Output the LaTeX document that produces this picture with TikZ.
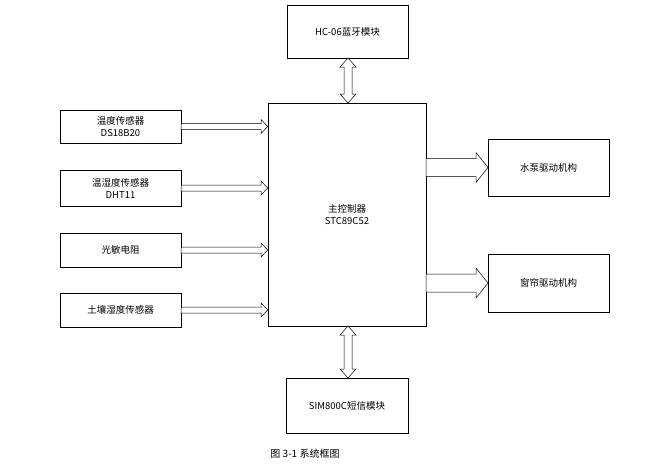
\documentclass[tikz,border=0pt]{standalone}
\usepackage{fontspec}
\setmainfont{Noto Sans CJK SC}
\begin{document}
\begin{tikzpicture}[x=1pt,y=-1pt,
  box/.style={draw,line width=0.6pt,inner sep=0pt,font=\fontsize{9.5}{12}\selectfont,align=center},
  harrow/.style={draw,line width=0.5pt,fill=white}]
\useasboundingbox (0,0) rectangle (669,464);
\fill[white] (0,0) rectangle (669,464);
\node[box,minimum width=121pt,minimum height=53pt] (hc) at (347.5,31.5) {HC-06蓝牙模块};
\node[box,minimum width=158pt,minimum height=223pt] (mcu) at (347,214.5) {主控制器\\STC89C52};
\node[box,minimum width=121pt,minimum height=33pt] (ds) at (120.5,126.5) {温度传感器\\DS18B20};
\node[box,minimum width=121pt,minimum height=36pt] (dht) at (120.5,188) {温湿度传感器\\DHT11};
\node[box,minimum width=121pt,minimum height=34pt] (gm) at (120.5,250) {光敏电阻};
\node[box,minimum width=121pt,minimum height=34pt] (tr) at (120.5,310) {土壤湿度传感器};
\node[box,minimum width=121pt,minimum height=57pt] (sb) at (548.5,167.5) {水泵驱动机构};
\node[box,minimum width=121pt,minimum height=58pt] (cl) at (548.5,283) {窗帘驱动机构};
\node[box,minimum width=122pt,minimum height=55pt] (sim) at (347,405.5) {SIM800C短信模块};
\node[font=\fontsize{10}{12}\selectfont] (cap) at (305,454) {图 3-1 系统框图};
% left hollow arrows
\foreach \c in {126.5,188,250,310}{
  \draw[harrow] (ds.east |- 0,\c) ++(0,-3) -- (261,\c-3) -- (261,\c-7) -- (mcu.west |- 0,\c) -- (261,\c+7) -- (261,\c+3) -- (181,\c+3) -- cycle;}
% right hollow arrows
\foreach \c in {167.5,283}{
  \draw[harrow] (426,\c-9) -- (476,\c-9) -- (476,\c-15) -- (488,\c) -- (476,\c+15) -- (476,\c+9) -- (426,\c+9) -- cycle;}
% vertical double arrows
\foreach \a/\b in {58/103,326/378}{
  \draw[harrow] (344,\a+9) -- (340,\a+9) -- (348,\a) -- (356,\a+9) -- (352,\a+9) -- (352,\b-9) -- (356,\b-9) -- (348,\b) -- (340,\b-9) -- (344,\b-9) -- cycle;}
\end{tikzpicture}
\end{document}
